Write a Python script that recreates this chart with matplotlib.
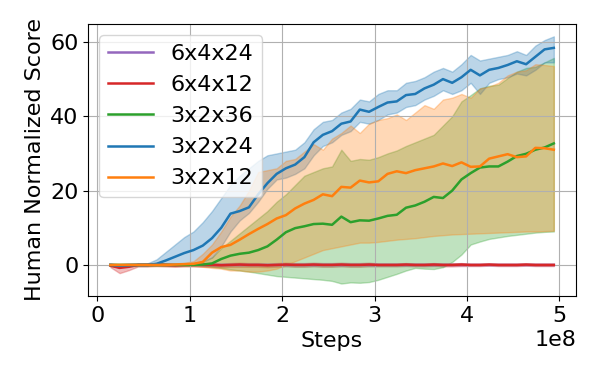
import matplotlib
matplotlib.use('Agg')
import matplotlib.pyplot as plt
import numpy as np

# evaluation checkpoints (env steps)
steps = np.linspace(0.14e8, 4.94e8, 49)

# 3x2x24 (blue)
blue_mean = [0, -0.2, -0.1, 0, 0, 0.3, 1.2, 2.2, 3.2, 4.0, 5.2, 7.2, 10, 13.8, 14.5, 15.5, 19, 22, 24.5,
             26, 27, 29, 33, 35, 36, 38, 38.6, 41.8, 41.2, 42.5, 43.7, 44, 45.7, 46, 47.5, 48.5, 50, 49,
             50.5, 52.5, 51, 52.5, 53, 53.8, 54.8, 54, 56, 58, 58.4]
blue_lo = [-0.3, -0.4, -0.3, -0.3, -0.3, 0, 0, 0, 0.2, 0.5, 1, 2, 5, 9, 12, 14, 17, 20.5, 23,
           23.5, 24.5, 26, 29.5, 32, 33, 35, 36, 38.5, 38, 39, 40.5, 41, 42.5, 43, 44.5, 45.5, 47, 46,
           47, 49, 46, 49, 50, 50.5, 51.5, 51, 52.5, 54.5, 54.5]
blue_hi = [0.3, 0.2, 0.3, 0.3, 0.4, 1.5, 3.5, 5.5, 7.5, 9, 11.5, 14.5, 18, 21.5, 24, 26, 28, 29.5, 30,
           30.5, 31, 33, 36.5, 38.5, 39, 41, 42, 44.5, 44, 46, 47, 47, 49, 49.5, 50.5, 52, 53, 52,
           54, 56.5, 55, 55.5, 56, 56.5, 57.5, 56.5, 59, 60.5, 61.5]

# 3x2x12 (orange)
orange_mean = [0, 0, 0, 0, 0, 0, 0, 0.1, 0.2, 0.3, 0.8, 3.3, 4.8, 5.4, 6.8, 8.3, 9.7, 11, 12.5,
               13.4, 15.2, 16.5, 17.5, 19, 18.5, 21, 20.8, 22.7, 22.2, 22.5, 24.5, 25.2, 24.7, 25.5, 26, 26.5, 27.3, 26.6,
               27.6, 26.4, 26.5, 28.6, 29.2, 29.8, 29, 29.2, 31.5, 31.4, 31]
orange_lo = [-0.3, -0.3, -0.3, -0.3, -0.3, -0.3, -0.3, -0.3, -0.3, -0.3, -0.5, -0.8, -1, -1.5, -1.5, -1.8, -1.8, -1.5, -1,
             0, 1, 2, 3, 4, 4.5, 5, 5.5, 6, 6, 6.2, 6.5, 6.8, 7, 7.2, 7.5, 7.8, 8, 8.2,
             8.3, 8.4, 8.5, 8.6, 8.7, 8.8, 8.9, 9.0, 9.0, 9.1, 9.2]
orange_hi = [0.3, 0.3, 0.3, 0.3, 0.3, 0.3, 0.3, 0.4, 0.6, 1, 3, 5.5, 9, 13, 16, 20, 25, 25.5, 26,
             28, 28.5, 30.5, 32.5, 31, 34, 35.5, 37.5, 35.5, 38, 39, 39.5, 40.5, 39, 41, 43, 42, 44.5, 45,
             46, 45, 47.5, 48, 49, 51, 52, 52.4, 54, 53.8, 53.5]

# 3x2x36 (green)
green_mean = [0, 0, 0, 0, 0, 0, 0, 0, 0, 0, 0.1, 0.4, 1.6, 2.5, 3, 3.3, 4, 5, 6.8,
              8.8, 9.9, 10.4, 11, 11.1, 10.8, 13, 11.5, 12, 11.9, 12.5, 13.2, 13.5, 15.4, 16, 17, 18.3, 18, 20,
              23, 24.7, 26.2, 26.5, 26.5, 27.8, 29.3, 29.9, 31, 31.6, 32.7]
green_lo = [-0.2, -0.2, -0.2, -0.2, -0.2, -0.2, -0.2, -0.2, -0.2, -0.2, -0.2, -0.5, -0.8, -1.2, -1.5, -1.8, -2.2, -2.6, -3,
            -3.2, -3.4, -3.6, -3.8, -4, -4.3, -5, -4.7, -4.8, -4.6, -4, -3.2, -2.4, -1.5, -0.8, -1, -1.1, -0.6, 0.8,
            2.8, 5.5, 6.3, 7, 7.4, 7.8, 8.1, 8.4, 8.7, 8.9, 9.0]
green_hi = [0.2, 0.2, 0.2, 0.2, 0.2, 0.2, 0.2, 0.2, 0.2, 0.2, 0.8, 2, 4.5, 6.5, 8.5, 10.5, 12.5, 14.5, 17,
            19, 21.5, 24, 25, 26, 26.5, 31, 28, 28.5, 28.3, 29, 30, 30.8, 32, 33, 34, 35, 37.5, 40,
            44, 45.7, 47.5, 48.2, 48.5, 50.3, 52, 53, 53.3, 54.5, 55.7]

# 6x4x12 (red)
red_mean = [-0.2, -0.8, -0.5, 0, 0, 0.1, 0, -0.1, 0, 0.1, 0, 0, -0.1, 0, 0.1, 0, 0, -0.1, 0,
            0.1, 0, 0, 0.1, 0, 0, 0.1, 0, 0, 0.1, 0, 0, 0, 0.1, 0, 0, 0.1, 0, 0,
            0.1, 0, 0, 0.1, 0, 0, 0, 0.1, 0, 0, 0]
red_lo = [-0.6, -2.2, -1.4, -0.4, -0.4, -0.3, -0.4, -0.5, -0.4, -0.4, -0.5, -0.5, -0.6, -0.5, -0.5, -0.5, -0.5, -0.6, -0.5,
          -0.4, -0.5, -0.5, -0.4, -0.5, -0.5, -0.4, -0.5, -0.5, -0.4, -0.4, -0.4, -0.4, -0.3, -0.4, -0.4, -0.3, -0.4, -0.4,
          -0.3, -0.3, -0.3, -0.2, -0.3, -0.3, -0.3, -0.2, -0.3, -0.3, -0.3]
red_hi = [0.2, 0.2, 0.2, 0.3, 0.4, 0.5, 0.4, 0.3, 0.4, 0.5, 0.5, 0.5, 0.4, 0.5, 0.6, 0.5, 0.5, 0.4, 0.5,
          0.6, 0.5, 0.5, 0.6, 0.5, 0.5, 0.6, 0.5, 0.5, 0.6, 0.4, 0.4, 0.4, 0.5, 0.4, 0.4, 0.5, 0.4, 0.4,
          0.5, 0.3, 0.3, 0.4, 0.3, 0.3, 0.3, 0.4, 0.3, 0.3, 0.3]

# 6x4x24 (purple)
purple_mean = [0, -0.1, 0, 0, 0, 0, 0, 0, 0, 0, 0, 0, 0, 0, 0, 0, 0, 0, 0,
               0, 0, 0, 0, 0, 0, 0, 0, 0, 0, 0, 0, 0, 0, 0, 0, 0, 0, 0,
               0, 0, 0, 0, 0, 0, 0, 0, 0, 0, 0]
purple_spread = [0.2, 0.3, 0.2, 0.1, 0.1, 0.1, 0.1, 0.1, 0.1, 0.1, 0.1, 0.1, 0.1, 0.1, 0.1, 0.1, 0.1, 0.1, 0.1,
                 0.1, 0.1, 0.1, 0.1, 0.1, 0.1, 0.1, 0.1, 0.1, 0.1, 0.1, 0.1, 0.1, 0.1, 0.1, 0.1, 0.1, 0.1, 0.1,
                 0.1, 0.1, 0.1, 0.1, 0.1, 0.1, 0.1, 0.1, 0.1, 0.1, 0.1]

plt.rcParams['font.family'] = ['DejaVu Sans']
fig = plt.figure(figsize=(6, 3.75), dpi=100)
ax = fig.add_axes([0.147, 0.211, 0.813, 0.725])

pm = np.array(purple_mean)
ps = np.array(purple_spread)

runs = [
    ('6x4x24', 'tab:purple', purple_mean, pm - ps, pm + ps),
    ('6x4x12', 'tab:red', red_mean, red_lo, red_hi),
    ('3x2x36', 'tab:green', green_mean, green_lo, green_hi),
    ('3x2x24', 'tab:blue', blue_mean, blue_lo, blue_hi),
    ('3x2x12', 'tab:orange', orange_mean, orange_lo, orange_hi),
]

for name, c, m, lo, hi in runs:
    ax.fill_between(steps, lo, hi, color=c, alpha=0.3)
for name, c, m, lo, hi in runs:
    ax.plot(steps, m, color=c, lw=1.8, label=name)

ax.legend(loc='upper left', fontsize=16)
ax.grid(True)
ax.set_xlabel('Steps', fontsize=16)
ax.set_ylabel('Human Normalized Score', fontsize=16)
ax.tick_params(labelsize=16)
ax.xaxis.get_offset_text().set_fontsize(16)
ax.set_yticks([0, 20, 40, 60])

fig.savefig('out.png', dpi=100)
